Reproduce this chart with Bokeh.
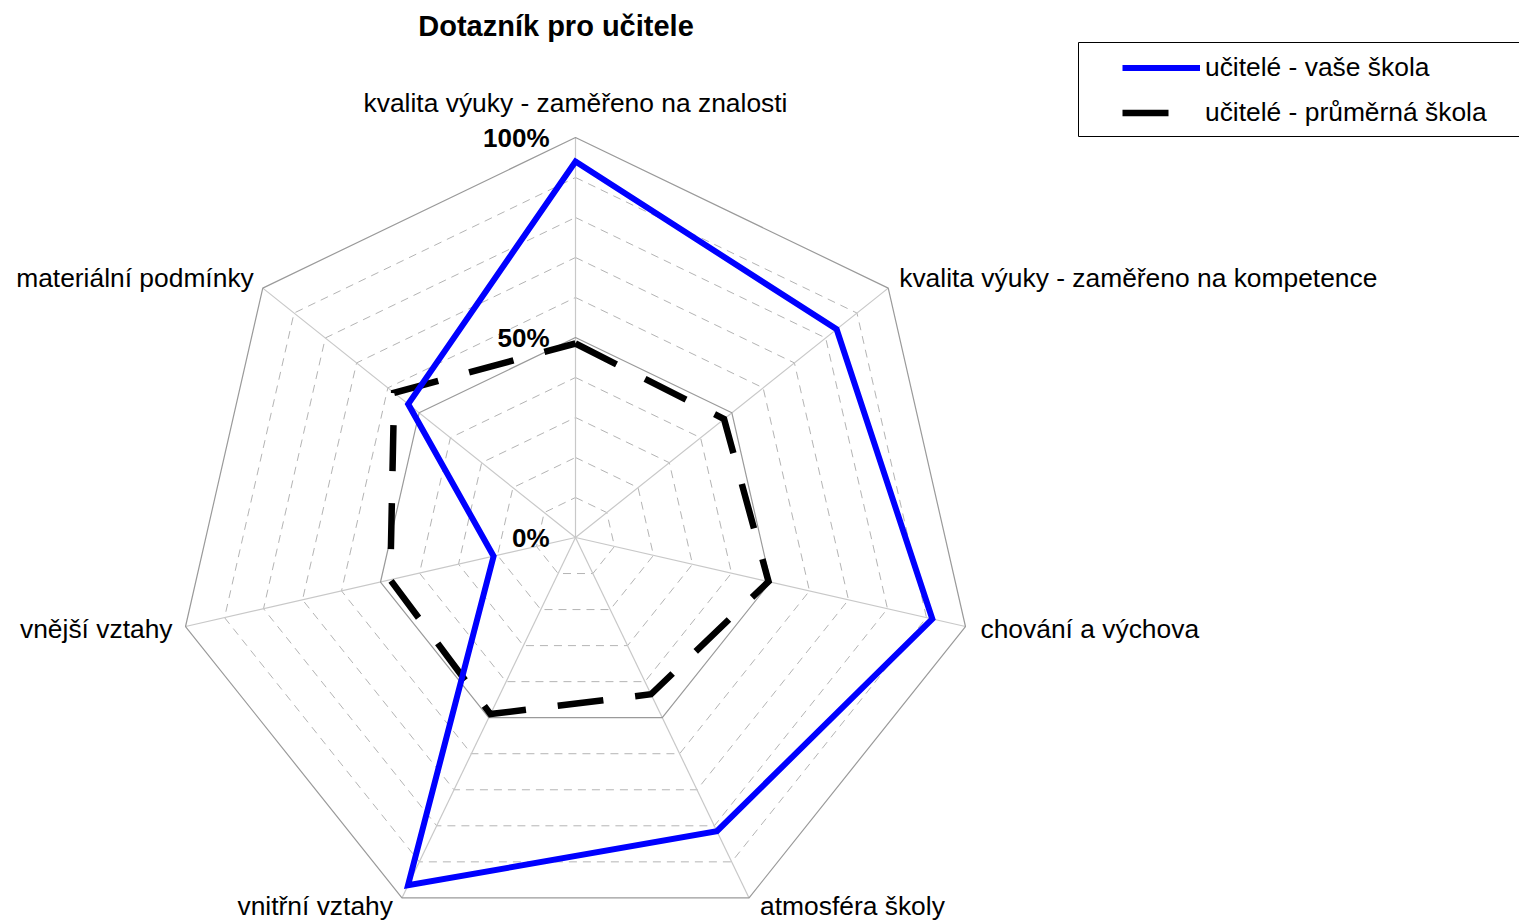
import numpy as np
from bokeh.plotting import figure
from bokeh.models import Range1d, Legend, LegendItem, BoxAnnotation, Label
from bokeh.core.properties import value
from bokeh.embed import file_html
from bokeh.resources import INLINE

# ---------------- data ----------------
title_text = "Dotazník pro učitele"
categories = [
    "kvalita výuky - zaměřeno na znalosti",
    "kvalita výuky - zaměřeno na kompetence",
    "chování a výchova",
    "atmosféra školy",
    "vnitřní vztahy",
    "vnější vztahy",
    "materiální podmínky",
]
vase_skola = [94, 83.5, 91.5, 81.5, 96.5, 21, 53.5]
prumerna_skola = [48.5, 47.5, 49.5, 43.5, 49, 47.5, 58]
series_names = ["učitelé - vaše škola", "učitelé - průměrná škola"]
tick_values = [0, 50, 100]
tick_labels = ["0%", "50%", "100%"]
ring_levels = [10, 20, 30, 40, 50, 60, 70, 80, 90, 100]
major_levels = [50, 100]

# ---------------- layout / style ----------------
W, H = 1519, 920
OFF = 0                      # page offset of the canvas
CX, CY, R = 575, 537, 400    # page px of chart centre, radius of 100 %
FONT = "Liberation Sans"
FS = "26.4px"
label_dx = [0, 11, 15, 11, -9, -13, -9]
label_dy = [-35, -10, 2, 8, 8, 2, -10]
label_align = ["center", "left", "left", "left", "right", "right", "right"]

p = figure(width=W, height=H, output_backend="svg", toolbar_location=None,
           x_range=Range1d((OFF - CX) / R, (OFF + W - CX) / R),
           y_range=Range1d((CY - OFF - H) / R, (CY - OFF) / R),
           min_border=0, x_axis_location=None, y_axis_location=None,
           outline_line_color=None, background_fill_color="white",
           border_fill_color="white")
p.grid.visible = False

N = len(categories)
ang = 2 * np.pi * np.arange(N) / N
ux, uy = np.sin(ang), np.cos(ang)
cx = np.append(ux, ux[0])
cy = np.append(uy, uy[0])

# grid rings
minor = [lv for lv in ring_levels if lv not in major_levels]
p.multi_line(xs=[list(cx * lv / 100) for lv in minor],
             ys=[list(cy * lv / 100) for lv in minor],
             line_color="#b4b4b4", line_width=1, line_dash="8 6")
p.multi_line(xs=[[0, x] for x in ux], ys=[[0, y] for y in uy],
             line_color="#c8c8c8", line_width=1.2)
p.multi_line(xs=[list(cx * lv / 100) for lv in major_levels],
             ys=[list(cy * lv / 100) for lv in major_levels],
             line_color="#9a9a9a", line_width=1.2)

# series
bv = np.array(prumerna_skola) / 100
bx = np.append(ux * bv, ux[0] * bv[0])
by = np.append(uy * bv, uy[0] * bv[0])
black = p.line(bx, by, line_color="black", line_width=6.5, line_dash="46 32",
               line_join="miter")

vv = np.array(vase_skola) / 100
vx = np.append(ux * vv, (ux * vv)[:2])
vy = np.append(uy * vv, (uy * vv)[:2])
blue = p.line(vx, vy, line_color="#0000ff", line_width=6, line_join="miter")

# percent labels
p.text(x=[0] * len(tick_values), y=[v / 100 for v in tick_values], text=tick_labels,
       x_offset=-26, text_align="right", text_baseline="middle",
       text_font=value(FONT), text_font_style="bold", text_font_size="26px",
       text_color="black")

# category labels
for k in range(N):
    p.text(x=[ux[k]], y=[uy[k]], text=[categories[k]],
           x_offset=label_dx[k], y_offset=label_dy[k],
           text_align=label_align[k], text_baseline="middle",
           text_font=value(FONT), text_font_size=FS, text_color="black")

# title
p.add_layout(Label(x=(555.5 - CX) / R, y=(CY - 25) / R, text=title_text,
                   text_align="center", text_baseline="middle",
                   text_font=FONT, text_font_style="bold", text_font_size="29px",
                   text_color="black"))

# legend frame + legend
p.add_layout(BoxAnnotation(left=(1078 - CX) / R, right=(1540 - CX) / R,
                           top=(CY - 42) / R, bottom=(CY - 136) / R,
                           fill_alpha=0, line_color="black", line_alpha=1,
                           line_width=1))
legend = Legend(items=[LegendItem(label=series_names[0], renderers=[blue]),
                       LegendItem(label=series_names[1], renderers=[black])],
                location=(1122 - OFF, H + OFF - 127.5), padding=0, spacing=14,
                margin=0, glyph_width=78, glyph_height=31, label_height=31,
                label_standoff=5, label_text_font=FONT,
                label_text_font_size=FS, label_text_color="black",
                border_line_color=None, background_fill_alpha=0)
p.add_layout(legend)

open("out.html", "w").write(file_html(p, INLINE))
